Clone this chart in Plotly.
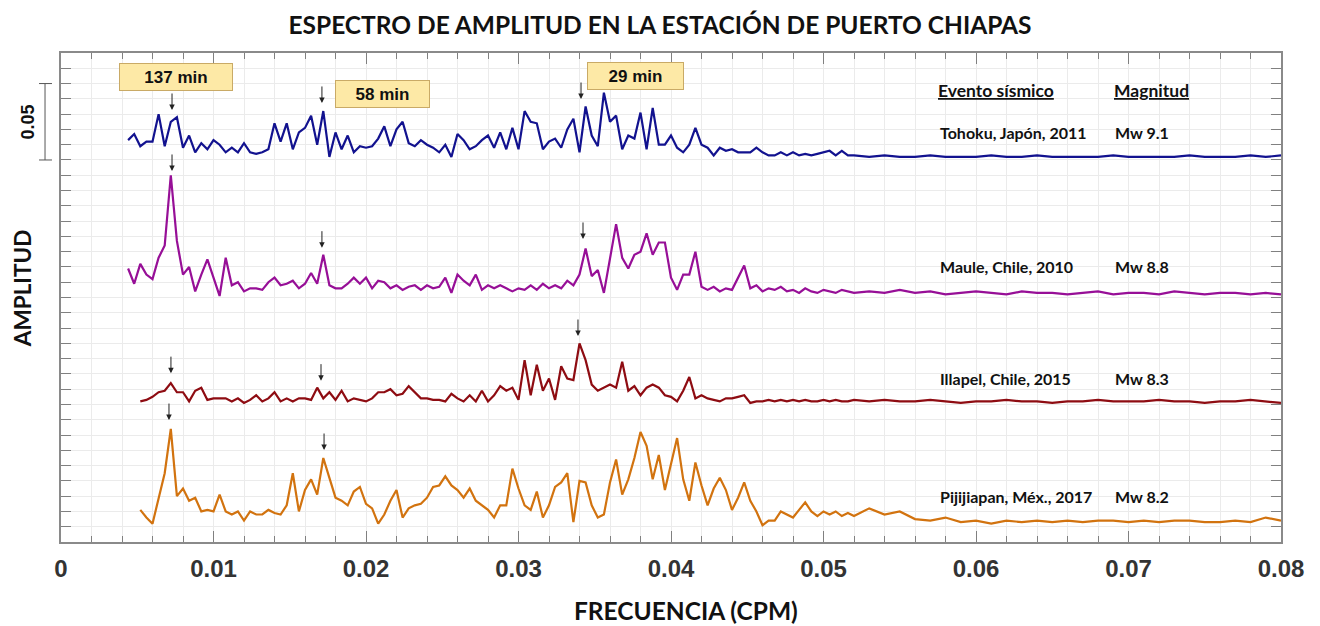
import numpy as np
import plotly.graph_objects as go

# ---------------- data ----------------
# frequency sampling (cycles per minute)
FREQ_MAIN_START, FREQ_MAIN_STEP, FREQ_MAIN_N = 0.0044, 0.0004, 120
FREQ_TAIL_START, FREQ_TAIL_STEP, FREQ_TAIL_N = 0.053, 0.001, 28

events = ["Tohoku, Japón, 2011", "Maule, Chile, 2010", "Illapel, Chile, 2015", "Pijijiapan, Méx., 2017"]
magnitudes = ["Mw 9.1", "Mw 8.8", "Mw 8.3", "Mw 8.2"]
offsets = [0.250, 0.160, 0.090, 0.010]   # vertical shift of each spectrum

tohoku = [
    .013, .017, .009, .012, .012, .030, .009, .025, .028, .008,
    .016, .005, .011, .007, .013, .010, .005, .008, .005, .011,
    .005, .004, .005, .007, .024, .012, .024, .007, .018, .021,
    .029, .010, .032, .002, .018, .007, .016, .005, .009, .008,
    .009, .014, .022, .009, .020, .025, .011, .009, .013, .010,
    .008, .005, .010, .002, .017, .013, .007, .009, .013, .016,
    .008, .018, .007, .021, .007, .032, .025, .024, .007, .012,
    .014, .008, .020, .027, .005, .035, .016, .009, .044, .025,
    .029, .007, .016, .014, .031, .007, .034, .010, .010, .016,
    .008, .005, .010, .021, .010, .008, .003, .008, .006, .007,
    .005, .005, .005, .008, .005, .003, .003, .005, .003, .005,
    .003, .004, .003, .004, .005, .006, .003, .006, .003, .003,
    .002, .003, .002, .002, .003, .002, .002, .002, .003, .002,
    .002, .003, .002, .002, .002, .002, .003, .002, .002, .002,
    .002, .003, .002, .002, .002, .003, .002, .003,
]

maule = [
    .019, .009, .022, .015, .012, .026, .034, .080, .037, .015,
    .020, .004, .015, .025, .013, .001, .026, .008, .010, .004,
    .006, .006, .005, .010, .013, .008, .009, .011, .006, .009,
    .016, .009, .028, .008, .006, .006, .009, .013, .009, .013,
    .006, .011, .010, .006, .008, .005, .007, .008, .005, .008,
    .006, .007, .013, .003, .015, .011, .008, .015, .005, .008,
    .006, .008, .006, .004, .006, .005, .008, .005, .009, .006,
    .008, .006, .011, .008, .015, .032, .014, .018, .003, .026,
    .048, .026, .019, .028, .030, .042, .028, .036, .036, .013,
    .005, .015, .015, .030, .007, .005, .007, .004, .006, .005,
    .013, .021, .006, .008, .004, .006, .005, .007, .004, .005,
    .003, .006, .004, .003, .005, .004, .003, .005, .004, .003,
    .004, .003, .005, .003, .004, .002, .003, .004, .003, .002,
    .004, .003, .003, .002, .003, .004, .002, .003, .003, .002,
    .004, .003, .002, .003, .003, .002, .003, .002,
]

illapel = [
    None, None, .002, .003, .005, .008, .009, .014, .008, .008,
    .002, .009, .011, .003, .004, .004, .004, .002, .004, .001,
    .003, .006, .002, .004, .008, .002, .004, .002, .004, .004,
    .003, .011, .004, .008, .003, .009, .002, .004, .003, .002,
    .004, .008, .008, .010, .006, .007, .012, .008, .004, .004,
    .003, .003, .002, .007, .004, .002, .006, .002, .009, .002,
    .006, .012, .009, .011, .003, .029, .006, .026, .009, .017,
    .003, .025, .017, .016, .040, .029, .013, .009, .011, .013,
    .011, .028, .009, .012, .006, .011, .013, .011, .006, .005,
    .002, .009, .018, .004, .006, .004, .003, .002, .004, .004,
    .005, .006, .001, .002, .002, .003, .002, .003, .002, .003,
    .002, .003, .002, .002, .003, .002, .003, .002, .002, .003,
    .002, .003, .002, .002, .003, .002, .001, .002, .002, .003,
    .002, .002, .001, .002, .002, .003, .002, .002, .002, .003,
    .002, .002, .001, .002, .002, .003, .002, .001,
]

pijijiapan = [
    None, None, .011, .006, .002, .019, .035, .064, .020, .025,
    .017, .019, .010, .011, .010, .021, .010, .008, .010, .004,
    .010, .008, .008, .011, .009, .008, .014, .035, .010, .024,
    .031, .021, .045, .032, .019, .017, .014, .023, .026, .015,
    .012, .002, .008, .017, .024, .006, .012, .014, .015, .019,
    .026, .027, .033, .027, .024, .019, .025, .017, .014, .011,
    .006, .014, .014, .038, .025, .014, .011, .023, .006, .014,
    .026, .029, .035, .003, .030, .029, .014, .006, .008, .029,
    .044, .021, .031, .045, .062, .053, .031, .047, .024, .040,
    .058, .031, .017, .042, .027, .014, .025, .032, .024, .011,
    .019, .029, .017, .010, .001, .004, .004, .010, .008, .006,
    .011, .016, .010, .007, .010, .008, .010, .007, .009, .007,
    .012, .008, .010, .005, .004, .006, .003, .004, .002, .004,
    .003, .004, .003, .004, .003, .004, .004, .003, .004, .003,
    .004, .004, .003, .003, .004, .003, .006, .004,
]

series = [tohoku, maule, illapel, pijijiapan]
colors = ["#12128f", "#970f97", "#8e0c12", "#d2730f"]

period_labels = ["137 min", "58 min", "29 min"]

# ---------------- figure ----------------
freq = np.concatenate([
    FREQ_MAIN_START + FREQ_MAIN_STEP * np.arange(FREQ_MAIN_N),
    FREQ_TAIL_START + FREQ_TAIL_STEP * np.arange(FREQ_TAIL_N),
])

fig = go.Figure()
for vals, off, col, name in zip(series, offsets, colors, events):
    y = [None if v is None else v + off for v in vals]
    fig.add_trace(go.Scatter(x=freq, y=y, mode="lines", name=name,
                             line=dict(color=col, width=2.2), showlegend=False))

ann = []
TXT = "#111111"
LBL_FONT = dict(family="Lato, 'Open Sans', sans-serif", size=16, color=TXT, weight="bold")
HDR_FONT = dict(family="Lato, 'Open Sans', sans-serif", size=17.5, color=TXT, weight="bold")

# header of the small table
ann.append(dict(x=0.0574, y=0.2955, xref="x", yref="y", xanchor="left", yanchor="middle",
                text="<u>Evento sísmico</u>", showarrow=False, font=HDR_FONT))
ann.append(dict(x=0.0689, y=0.2955, xref="x", yref="y", xanchor="left", yanchor="middle",
                text="<u>Magnitud</u>", showarrow=False, font=HDR_FONT))

label_y = [0.2683, 0.1806, 0.1067, 0.0301]
for ev, mw, ly in zip(events, magnitudes, label_y):
    ann.append(dict(x=0.0575, y=ly, xref="x", yref="y", xanchor="left", yanchor="middle",
                    text=ev, showarrow=False, font=LBL_FONT))
    ann.append(dict(x=0.0690, y=ly, xref="x", yref="y", xanchor="left", yanchor="middle",
                    text=mw, showarrow=False, font=LBL_FONT))

# yellow period boxes
box_pos = [(0.00754, 0.3043), (0.02105, 0.2932), (0.03764, 0.3050)]
box_w = [110, 91, 93]
for lab, (bx, by), bw in zip(period_labels, box_pos, box_w):
    ann.append(dict(x=bx, y=by, xref="x", yref="y", text=lab, showarrow=False,
                    bgcolor="#fde9a6", bordercolor="#c9aa66", borderwidth=1, borderpad=1,
                    width=bw, height=24,
                    font=dict(family="Liberation Sans, Arial, sans-serif", size=17,
                              color=TXT, weight="bold")))

# small arrows pointing at spectral peaks
arrow_tips = [
    (0.00728, 0.2827), (0.01711, 0.2873), (0.03410, 0.2899),
    (0.00728, 0.2428), (0.01711, 0.1926), (0.03423, 0.1983),
    (0.00721, 0.1105), (0.01705, 0.1056), (0.03390, 0.1348),
    (0.00708, 0.0798), (0.01725, 0.0602),
]
for ax_, ay_ in arrow_tips:
    ann.append(dict(x=ax_, y=ay_, xref="x", yref="y", text="", showarrow=True,
                    arrowhead=2, arrowsize=1.1, arrowwidth=1, arrowcolor="#222222",
                    ax=0, ay=-18))

# scale bar label and axis titles
ann.append(dict(x=-0.0272, y=0.275, xref="paper", yref="y", text="0.05", textangle=-90,
                showarrow=False, xanchor="center", yanchor="middle",
                font=dict(family="Liberation Sans, Arial, sans-serif", size=18, color=TXT, weight="bold")))
ann.append(dict(x=-0.032, y=0.519, xref="paper", yref="paper", text="AMPLITUD", textangle=-90,
                showarrow=False, xanchor="center", yanchor="middle",
                font=dict(family="Lato, sans-serif", size=22.5, color=TXT, weight="bold")))
ann.append(dict(x=0.512, y=-0.141, xref="paper", yref="paper", text="FRECUENCIA (CPM)",
                showarrow=False, xanchor="center", yanchor="middle",
                font=dict(family="Lato, sans-serif", size=24.5, color=TXT, weight="bold")))

shapes = [
    dict(type="line", xref="paper", yref="y", x0=-0.0131, x1=-0.0131, y0=0.25, y1=0.30,
         line=dict(color="#555555", width=1)),
    dict(type="line", xref="paper", yref="y", x0=-0.018, x1=-0.0074, y0=0.25, y1=0.25,
         line=dict(color="#555555", width=1)),
    dict(type="line", xref="paper", yref="y", x0=-0.018, x1=-0.0074, y0=0.30, y1=0.30,
         line=dict(color="#555555", width=1)),
]

x_ticks = [0, 0.01, 0.02, 0.03, 0.04, 0.05, 0.06, 0.07, 0.08]
x_tick_text = ["0", "0.01", "0.02", "0.03", "0.04", "0.05", "0.06", "0.07", "0.08"]

fig.update_layout(
    width=1320, height=626,
    margin=dict(l=61, r=39, t=53, b=84),
    paper_bgcolor="white", plot_bgcolor="white",
    title=dict(text="ESPECTRO DE AMPLITUD EN LA ESTACIÓN DE PUERTO CHIAPAS",
               x=0.5, xanchor="center", y=1 - 25 / 626, yanchor="middle",
               font=dict(family="Lato, sans-serif", size=24.5, color=TXT, weight="bold")),
    annotations=ann, shapes=shapes,
    xaxis=dict(range=[0, 0.08], tickvals=x_ticks, ticktext=x_tick_text,
               ticks="inside", ticklen=11, tickwidth=1, tickcolor="#808080",
               showline=True, linecolor="#8a8a8a", linewidth=1.5, mirror="ticks",
               showgrid=True, gridcolor="#ebebeb", gridwidth=1, zeroline=False,
               ticklabelstandoff=4,
               tickfont=dict(family="Liberation Sans, Arial, sans-serif", size=24,
                             color="#333333", weight="bold"),
               minor=dict(dtick=0.002, tick0=0, ticks="inside", ticklen=6, tickcolor="#808080",
                          showgrid=True, gridcolor="#ebebeb", gridwidth=1)),
    yaxis=dict(range=[0, 0.32], tick0=0, dtick=0.01, showticklabels=False,
               ticks="inside", ticklen=10, tickwidth=1, tickcolor="#808080",
               showline=True, linecolor="#8a8a8a", linewidth=1.5, mirror="ticks",
               showgrid=True, gridcolor="#ebebeb", gridwidth=1, zeroline=False),
)

fig.write_html("out.html")
